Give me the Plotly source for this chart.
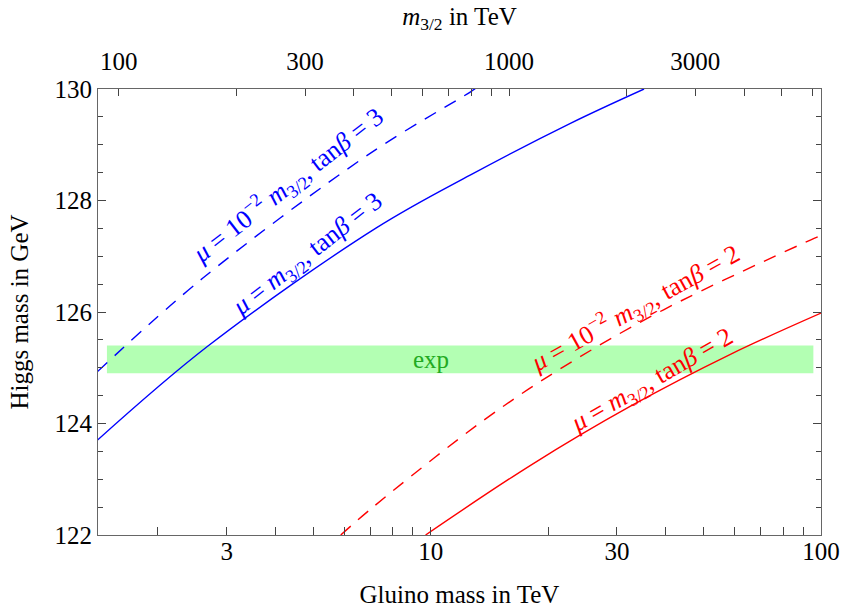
import numpy as np
import plotly.graph_objects as go

FONT = "Liberation Serif"

# ---- data (gluino mass in TeV, Higgs mass in GeV) ----
blue_solid_x = [1.399, 2.676, 7.22, 12.65, 22.8, 35.2]
blue_solid_y = [123.70, 125.38, 127.50, 128.46, 129.385, 130.0]

blue_dash_x = [1.399, 2.598, 7.01, 12.65, 13.2]
blue_dash_y = [124.93, 126.60, 128.85, 129.95, 130.04]

red_dash_x = [5.88, 7.14, 13.68, 21.93, 39.5, 93.9, 100.0]
red_dash_y = [122.0, 122.51, 124.06, 125.02, 126.04, 127.29, 127.37]

red_solid_x = [9.70, 18.02, 32.5, 58.6, 100.0]
red_solid_y = [122.0, 123.25, 124.31, 125.24, 125.98]

exp_band_x = [1.48, 95.6]
exp_band_y = [124.9, 125.4]

bottom_tickvals = [2, 3, 4, 5, 6, 7, 8, 9, 10, 20, 30, 40, 50, 60, 70, 80, 90, 100]
bottom_ticklabels = ["3", "10", "30", "100"]
top_tickvals = [100, 200, 300, 400, 500, 600, 700, 800, 900, 1000,
                2000, 3000, 4000, 5000, 6000]
top_ticklabels = ["100", "300", "1000", "3000"]

gluino_range = [1.404, 100.0]
m32_per_gluino = 63.0
higgs_range = [122, 130]

def labels_for(vals, shown):
    return [str(v) if str(v) in shown else "" for v in vals]

fig = go.Figure()

fig.add_shape(type="rect", xref="x", yref="y",
              x0=exp_band_x[0], x1=exp_band_x[1],
              y0=exp_band_y[0], y1=exp_band_y[1],
              fillcolor="#b3ffb3", line=dict(width=0), layer="below")

line_w = 1.4
dash = "13px,10px"
fig.add_trace(go.Scatter(x=blue_dash_x, y=blue_dash_y, mode="lines",
                         line=dict(color="#0000ff", width=line_w, dash=dash, shape="spline"),
                         showlegend=False, hoverinfo="skip"))
fig.add_trace(go.Scatter(x=blue_solid_x, y=blue_solid_y, mode="lines",
                         line=dict(color="#0000ff", width=line_w, shape="spline"),
                         showlegend=False, hoverinfo="skip"))
fig.add_trace(go.Scatter(x=red_dash_x, y=red_dash_y, mode="lines",
                         line=dict(color="#ff0000", width=line_w, dash=dash, shape="spline"),
                         showlegend=False, hoverinfo="skip"))
fig.add_trace(go.Scatter(x=red_solid_x, y=red_solid_y, mode="lines",
                         line=dict(color="#ff0000", width=line_w, shape="spline"),
                         showlegend=False, hoverinfo="skip"))
# invisible trace to activate the top (m_3/2) axis
fig.add_trace(go.Scatter(x=top_tickvals, y=[higgs_range[0]] * len(top_tickvals),
                         xaxis="x2", yaxis="y", mode="markers",
                         marker=dict(opacity=0), showlegend=False, hoverinfo="skip"))

lg = np.log10
TICK_SIZE = 25
TITLE_SIZE = 25
axis_common = dict(showgrid=False, zeroline=False, showline=True, linecolor="#666666",
                   linewidth=1, ticks="inside", tickcolor="#444444", tickwidth=1,
                   automargin=False,
                   tickfont=dict(family=FONT, size=TICK_SIZE, color="black"))

fig.update_layout(
    width=842, height=608,
    margin=dict(l=98, r=21, t=89, b=73),
    paper_bgcolor="white", plot_bgcolor="white",
    font=dict(family=FONT, color="black"),
    xaxis=dict(type="log", range=[lg(gluino_range[0]), lg(gluino_range[1])],
               tickmode="array", tickvals=bottom_tickvals,
               ticktext=labels_for(bottom_tickvals, bottom_ticklabels),
               ticklen=8, mirror=False, ticklabelstandoff=-6,
               title=dict(text="Gluino mass in TeV", font=dict(family=FONT, size=TITLE_SIZE), standoff=35),
               **axis_common),
    xaxis2=dict(type="log", overlaying="x", side="top", anchor="y",
                range=[lg(gluino_range[0] * m32_per_gluino), lg(gluino_range[1] * m32_per_gluino)],
                tickmode="array", tickvals=top_tickvals,
                ticktext=labels_for(top_tickvals, top_ticklabels),
                ticklen=7, ticklabelstandoff=8,
                title=dict(text="<i>m</i><sub>3/2</sub> in TeV", font=dict(family=FONT, size=TITLE_SIZE), standoff=15),
                **axis_common),
    yaxis=dict(range=higgs_range, tickmode="linear", tick0=122, dtick=2, ticklen=8,
               mirror="ticks",
               minor=dict(dtick=0.5, ticklen=5, ticks="inside", tickcolor="#444444"),
               title=dict(text="Higgs mass in GeV", font=dict(family=FONT, size=TITLE_SIZE), standoff=18),
               **axis_common),
)

ann_font = 26
annots = [
    dict(text="<i>μ</i> = 10<sup>−2</sup> <i>m</i><sub>3/2</sub>, tan<i>β</i> = 3",
         x=4.30, y=128.27, angle=-38, color="#0000ff"),
    dict(text="<i>μ</i> = <i>m</i><sub>3/2</sub>, tan<i>β</i> = 3",
         x=4.84, y=127.02, angle=-38, color="#0000ff"),
    dict(text="<i>μ</i> = 10<sup>−2</sup> <i>m</i><sub>3/2</sub>, tan<i>β</i> = 2",
         x=33.3, y=126.07, angle=-29, color="#ff0000"),
    dict(text="<i>μ</i> = <i>m</i><sub>3/2</sub>, tan<i>β</i> = 2",
         x=36.9, y=124.77, angle=-30, color="#ff0000"),
]
for a in annots:
    fig.add_annotation(x=lg(a["x"]), y=a["y"], xref="x", yref="y", text=a["text"],
                       textangle=a["angle"], showarrow=False,
                       font=dict(family=FONT, size=ann_font, color=a["color"]),
                       xanchor="center", yanchor="middle")
fig.add_annotation(x=lg(10.0), y=125.14, xref="x", yref="y", text="exp", showarrow=False,
                   font=dict(family=FONT, size=25, color="#22aa22"),
                   xanchor="center", yanchor="middle")

# remove the browser's default 8px page margin so the figure fills the window exactly
fig.write_html("out.html", config={"displayModeBar": False},
               post_script="document.body.style.margin='0';document.body.style.overflow='hidden';")
